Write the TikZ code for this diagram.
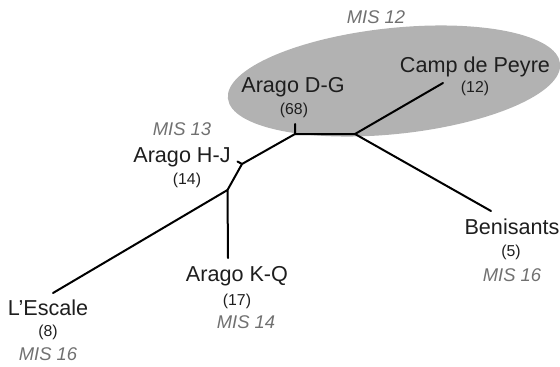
\documentclass[tikz,border=0pt]{standalone}
\usepackage{fontspec}
\setmainfont{Liberation Sans}
\definecolor{ovalgray}{RGB}{178,178,178}
\definecolor{misgray}{RGB}{112,112,112}
\definecolor{inkdark}{RGB}{30,30,30}

\begin{document}
\begin{tikzpicture}[x=1pt,y=-1pt,
  site/.style={inner sep=0pt,text=inkdark,font=\fontsize{21.6}{23}\selectfont},
  count/.style={inner sep=0pt,text=inkdark,font=\fontsize{15.8}{17}\selectfont},
  mis/.style={inner sep=0pt,text=misgray,font=\fontsize{18.4}{20}\selectfont\itshape},
  branch/.style={line width=2pt,line cap=round,line join=round}]
\useasboundingbox (0,0) rectangle (560,367);
\fill[ovalgray,rotate around={6:(394,81)}] (394,81) ellipse (167 and 53);
% tree junctions and tips
\coordinate (dg) at (295,134);
\coordinate (dgtip) at (295,124);
\coordinate (cp) at (355,134);
\coordinate (peyre) at (443,83);
\coordinate (beni) at (491,211);
\coordinate (hj) at (242,164);
\coordinate (hjtip) at (237.5,161.5);
\coordinate (kq) at (227.5,190);
\coordinate (kqend) at (228,258);
\coordinate (esc) at (53,293);
\draw[branch] (dgtip) -- (dg) -- (cp) -- (peyre);
\draw[branch] (cp) -- (beni);
\draw[branch] (dg) -- (hj) -- (kq) -- (kqend);
\draw[branch] (hjtip) -- (hj);
\draw[branch] (kq) -- (esc);
% labels
\node[mis] (mis12) at (376,17) {MIS 12};
\node[site] (peyrename) at (475,67) {Camp de Peyre};
\node[count] (peyren) at (475,88) {(12)};
\node[site] (dgname) at (293,87) {Arago D-G};
\node[count] (dgn) at (294,110) {(68)};
\node[mis] (mis13) at (182,129) {MIS 13};
\node[site] (hjname) at (182,157) {Arago H-J};
\node[count] (hjn) at (187,180) {(14)};
\node[site] (escname) at (48,308) {L’Escale};
\node[count] (escn) at (48,332) {(8)};
\node[mis] (escmis) at (48,354) {MIS 16};
\node[site] (kqname) at (237,276) {Arago K-Q};
\node[count] (kqn) at (237,301) {(17)};
\node[mis] (kqmis) at (246,322) {MIS 14};
\node[site] (beniname) at (512,227) {Benisants};
\node[count] (benin) at (511,252) {(5)};
\node[mis] (benimis) at (512,275) {MIS 16};
\end{tikzpicture}
\end{document}
